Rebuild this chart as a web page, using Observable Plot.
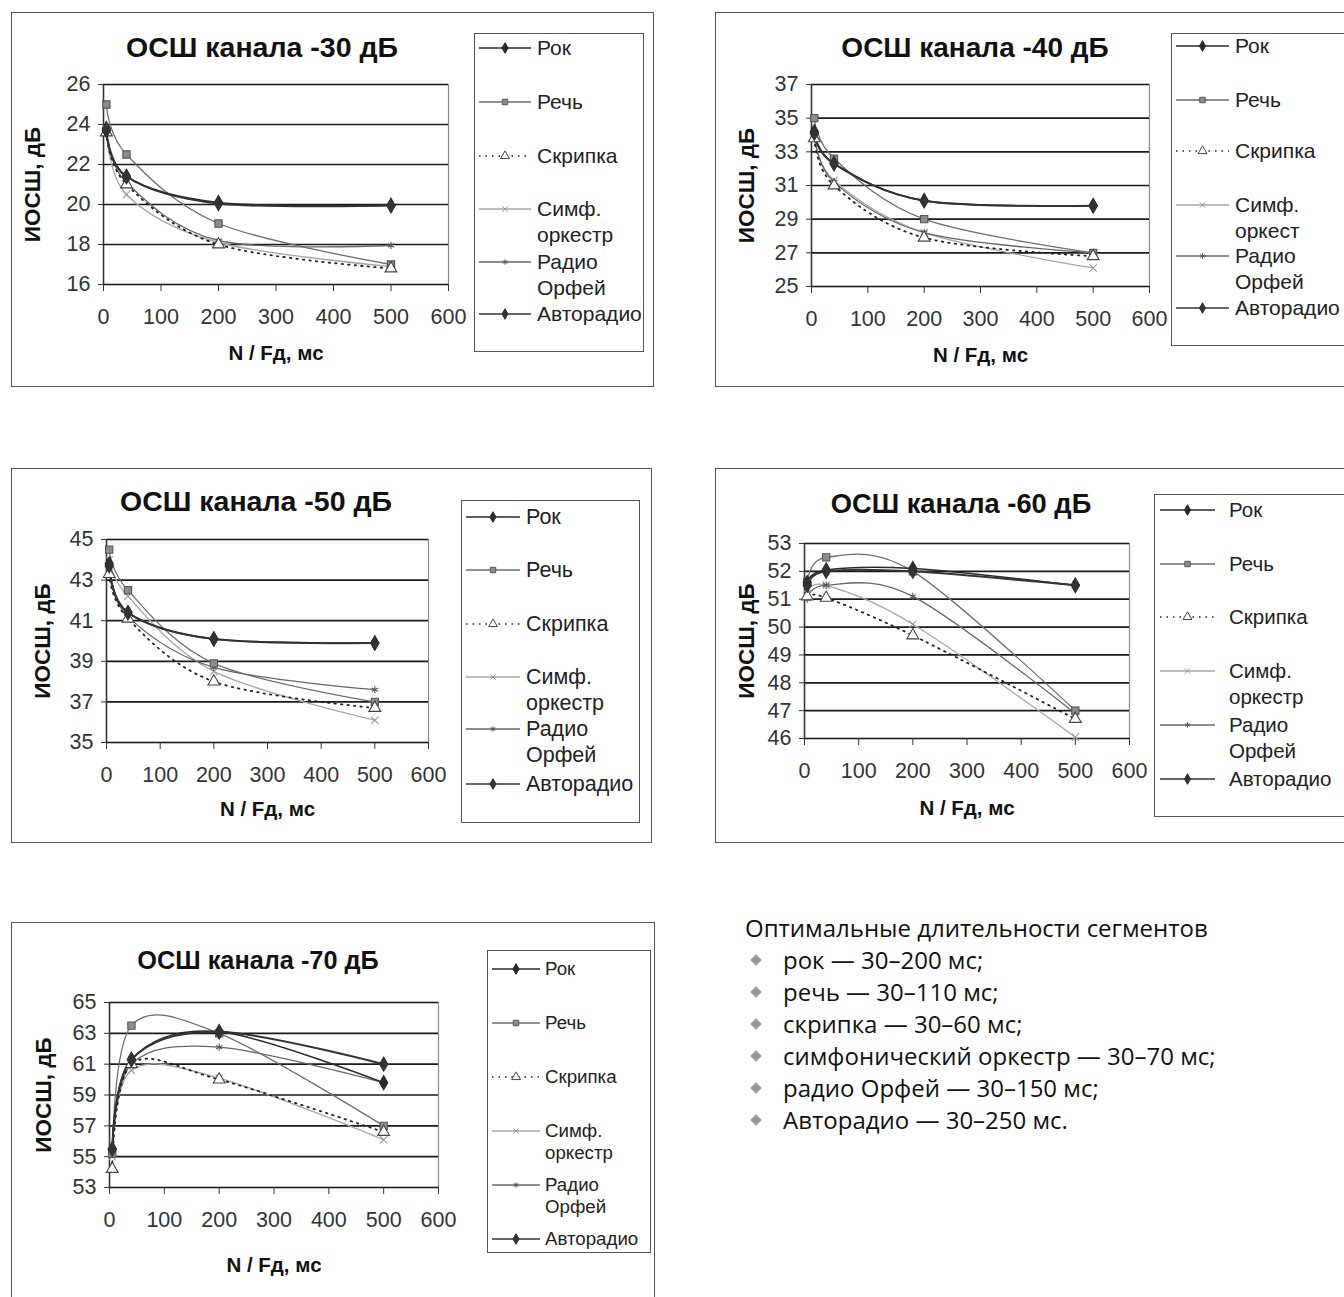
<!DOCTYPE html>
<html><head><meta charset="utf-8">
<script src="https://cdn.jsdelivr.net/npm/d3@7"></script>
<script src="https://cdn.jsdelivr.net/npm/@observablehq/plot@0.6"></script>
<style>
body{margin:0;background:#fff;}
#page{position:relative;width:1344px;height:1297px;overflow:hidden;background:#fff;font-family:"Liberation Sans",Arial,sans-serif;color:#1a1a1a;}
.frame{position:absolute;border:1.5px solid #555;box-sizing:border-box;}
.title{position:absolute;font-weight:bold;transform:translate(-50%,-50%);white-space:nowrap;color:#111;}
.legend{position:absolute;border:1.5px solid #555;box-sizing:border-box;background:#fff;}
.plot{position:absolute;}
.lgtext{position:absolute;white-space:nowrap;color:#222;}
.lgsym{position:absolute;overflow:visible;}
#notes{position:absolute;left:745px;top:912px;font-family:"Open Sans","Noto Sans",sans-serif;font-size:24px;color:#111;}
#notes .head{height:32px;line-height:32px;}
#notes .item{position:relative;height:32px;line-height:32px;padding-left:38px;}
#notes .item::before{content:"";position:absolute;left:7px;top:12px;width:8px;height:8px;background:#999;transform:rotate(45deg);}
</style></head>
<body><div id="page"></div>
<script>
// ---------- data ----------
const xValues = [5, 40, 200, 500];
const xTicks = [0, 100, 200, 300, 400, 500, 600];
const seriesNames = ["Рок", "Речь", "Скрипка", "Симф. оркестр", "Радио Орфей", "Авторадио"];
const titles = ["ОСШ канала -30 дБ", "ОСШ канала -40 дБ", "ОСШ канала -50 дБ", "ОСШ канала -60 дБ", "ОСШ канала -70 дБ"];
const yLabel = "ИОСШ, дБ";
const xLabel = "N / Fд, мс";
const legendLabels = ["Рок", "Речь", "Скрипка", "Симф.\nоркестр", "Радио\nОрфей", "Авторадио"];
const legendLabels40 = ["Рок", "Речь", "Скрипка", "Симф.\nоркест", "Радио\nОрфей", "Авторадио"];
// rows follow seriesNames; columns follow xValues
const snr30 = [
  [23.7, 21.4, 20.1, 19.95],
  [25.0, 22.5, 19.05, 17.0],
  [23.6, 21.0, 18.0, 16.8],
  [23.8, 20.5, 18.1, 16.9],
  [23.7, 21.1, 18.2, 17.95],
  [23.8, 21.4, 20.05, 19.95]
];
const snr40 = [
  [34.2, 32.3, 30.1, 29.8],
  [35.0, 32.6, 29.0, 27.0],
  [33.8, 31.0, 27.9, 26.8],
  [34.0, 31.3, 28.2, 26.1],
  [34.1, 31.2, 28.2, 27.0],
  [34.1, 32.3, 30.1, 29.8]
];
const snr50 = [
  [43.8, 41.4, 40.1, 39.9],
  [44.5, 42.5, 38.9, 37.0],
  [43.3, 41.1, 38.0, 36.7],
  [44.0, 42.2, 38.5, 36.1],
  [43.6, 41.2, 38.7, 37.6],
  [43.7, 41.4, 40.1, 39.9]
];
const snr60 = [
  [51.6, 52.05, 52.1, 51.5],
  [51.6, 52.5, 52.0, 47.0],
  [51.1, 51.05, 49.7, 46.7],
  [51.2, 51.5, 50.1, 46.05],
  [51.0, 51.5, 51.1, 46.9],
  [51.5, 52.0, 52.0, 51.5]
];
const snr70 = [
  [55.5, 61.3, 63.1, 59.8],
  [55.2, 63.5, 63.0, 57.0],
  [54.2, 61.0, 60.0, 56.6],
  [55.0, 60.6, 60.1, 56.1],
  [55.3, 61.0, 62.1, 59.8],
  [55.5, 61.3, 63.1, 61.0]
];
const yTicks30 = [16, 18, 20, 22, 24, 26];
const yTicks40 = [25, 27, 29, 31, 33, 35, 37];
const yTicks50 = [35, 37, 39, 41, 43, 45];
const yTicks60 = [46, 47, 48, 49, 50, 51, 52, 53];
const yTicks70 = [53, 55, 57, 59, 61, 63, 65];
const noteHead = "Оптимальные длительности сегментов";
const noteItems = ["рок — 30–200 мс;", "речь — 30–110 мс;", "скрипка — 30–60 мс;", "симфонический оркестр — 30–70 мс;", "радио Орфей — 30–150 мс;", "Авторадио — 30–250 мс."];

// ---------- styles ----------
const styles = {
  "Рок":           {stroke:"#2a2a2a", sw:1.6, symbol:"diamond", fill:"#2a2a2a", mstroke:"#2a2a2a", r:4.3},
  "Речь":          {stroke:"#6e6e6e", sw:1.3, symbol:"square", fill:"#8c8c8c", mstroke:"#555", r:4.1},
  "Скрипка":       {stroke:"#222", sw:1.8, dash:"1.5,5", symbol:"triangle", fill:"#fff", mstroke:"#444", r:4.4},
  "Симф. оркестр": {stroke:"#a6a6a6", sw:1.3, symbol:"times", fill:"none", mstroke:"#999", r:3.4},
  "Радио Орфей":   {stroke:"#666", sw:1.3, symbol:"asterisk", fill:"none", mstroke:"#555", r:3.4},
  "Авторадио":     {stroke:"#333", sw:2.0, symbol:"diamond", fill:"#333", mstroke:"#333", r:4.3}
};
const drawOrder = ["Симф. оркестр", "Радио Орфей", "Речь", "Скрипка", "Рок", "Авторадио"];

// ---------- layout ----------
const panels = [
  {title:titles[0], values:snr30, yTicks:yTicks30, labels:legendLabels,
   frame:[11,12,643,375], plot:[103,84,448,284], titlePos:[262,47], titleFs:28.5,
   legend:[474,33,170,319], legY:[48,102,156,209,262,314], line:[479,531], textX:537, legFs:21,
   yOff:71, xOff:69, tickFs:21.5},
  {title:titles[1], values:snr40, yTicks:yTicks40, labels:legendLabels40,
   frame:[715,12,700,375], plot:[811,84,1149,286], titlePos:[975,48], titleFs:28,
   legend:[1171,33,200,313], legY:[46,100,151,205,256,308], line:[1176,1229], textX:1235, legFs:21,
   yOff:65, xOff:69, tickFs:21.5},
  {title:titles[2], values:snr50, yTicks:yTicks50, labels:legendLabels,
   frame:[11,468,641,375], plot:[106,539,428,742], titlePos:[256,501], titleFs:28.5,
   legend:[461,500,179,323], legY:[517,570,624,677,729,784], line:[466,520], textX:526, legFs:21.5,
   yOff:64, xOff:67, tickFs:21.5},
  {title:titles[3], values:snr60, yTicks:yTicks60, labels:legendLabels,
   frame:[715,468,700,375], plot:[804,543,1129,738], titlePos:[961,504], titleFs:27.3,
   legend:[1154,494,220,323], legY:[510,564,617,671,725,779], line:[1160,1215], textX:1229, legFs:20.5,
   yOff:58, xOff:70, tickFs:21.5},
  {title:titles[4], values:snr70, yTicks:yTicks70, labels:legendLabels,
   frame:[11,922,644,420], plot:[109,1002,438,1187], titlePos:[258,960], titleFs:25.3,
   legend:[487,950,164,303], legY:[969,1023,1077,1131,1185,1239], line:[492,540], textX:545, legFs:18.7,
   yOff:66, xOff:78, tickFs:21.5}
];

const page = document.getElementById("page");

function symbolPath(name, r) {
  const map = {diamond:d3.symbolDiamond, square:d3.symbolSquare, triangle:d3.symbolTriangle, times:d3.symbolTimes, asterisk:d3.symbolAsterisk};
  return d3.symbol(map[name], Math.PI * r * r)();
}

function drawPanel(cfg) {
  const [fx, fy, fw, fh] = cfg.frame;
  const fr = document.createElement("div");
  fr.className = "frame";
  Object.assign(fr.style, {left:fx+"px", top:fy+"px", width:fw+"px", height:fh+"px"});
  page.appendChild(fr);

  const t = document.createElement("div");
  t.className = "title";
  t.textContent = cfg.title;
  Object.assign(t.style, {left:cfg.titlePos[0]+"px", top:cfg.titlePos[1]+"px", fontSize:cfg.titleFs+"px"});
  page.appendChild(t);

  const [L, T, R, B] = cfg.plot;
  const mL = 95, mR = 30, mT = 12, mB = 95;
  const data = [];
  seriesNames.forEach((s, i) => xValues.forEach((x, j) => data.push({series:s, x, y:cfg.values[i][j]})));
  const yDom = [d3.min(cfg.yTicks), d3.max(cfg.yTicks)];

  const marks = [
    Plot.frame({stroke:"#8a8a8a", strokeWidth:1.2}),
    Plot.ruleY(cfg.yTicks, {stroke:"#1a1a1a", strokeWidth:1.7}),
    Plot.ruleX([0], {stroke:"#333", strokeWidth:1.5}),
    Plot.axisY({ticks:cfg.yTicks, tickSize:5, tickPadding:8, fontSize:cfg.tickFs, label:null, tickFormat:d=>d}),
    Plot.axisX({ticks:xTicks, tickSize:7, tickPadding:17, fontSize:cfg.tickFs, label:null, tickFormat:d=>d}),
    Plot.text([yLabel], {text:d=>d, frameAnchor:"left", textAnchor:"middle", lineAnchor:"middle", rotate:-90, dx:-cfg.yOff, fontWeight:"bold", fontSize:22.5, fill:"#111"}),
    Plot.text([xLabel], {text:d=>d, frameAnchor:"bottom", textAnchor:"middle", lineAnchor:"middle", dy:cfg.xOff, fontWeight:"bold", fontSize:20.5, fill:"#111"})
  ];
  for (const s of drawOrder) {
    const st = styles[s];
    const sub = data.filter(d => d.series === s);
    marks.push(Plot.line(sub, {x:"x", y:"y", stroke:st.stroke, strokeWidth:st.sw, strokeDasharray:st.dash, curve:"cardinal"}));
  }
  for (const s of drawOrder) {
    const st = styles[s];
    const sub = data.filter(d => d.series === s);
    marks.push(Plot.dot(sub, {x:"x", y:"y", symbol:()=>st.symbol, r:st.r, fill:st.fill, stroke:st.mstroke, strokeWidth:1.1}));
  }
  const svg = Plot.plot({
    width:(R-L)+mL+mR, height:(B-T)+mT+mB,
    marginLeft:mL, marginRight:mR, marginTop:mT, marginBottom:mB,
    x:{domain:[0,600]}, y:{domain:yDom},
    symbol:{type:"identity"},
    style:{fontFamily:"'Liberation Sans', Arial, sans-serif", color:"#333", background:"transparent", overflow:"visible"},
    marks
  });
  svg.classList.add("plot");
  svg.style.left = (L - mL) + "px";
  svg.style.top = (T - mT) + "px";
  page.appendChild(svg);

  // legend
  const [lx, ly, lw, lh] = cfg.legend;
  const lg = document.createElement("div");
  lg.className = "legend";
  Object.assign(lg.style, {left:lx+"px", top:ly+"px", width:lw+"px", height:lh+"px"});
  page.appendChild(lg);
  seriesNames.forEach((s, i) => {
    const st = styles[s];
    const y = cfg.legY[i];
    const [x0, x1] = cfg.line;
    const ns = "http://www.w3.org/2000/svg";
    const sv = document.createElementNS(ns, "svg");
    sv.setAttribute("class", "lgsym");
    sv.setAttribute("width", x1 - x0);
    sv.setAttribute("height", 14);
    sv.style.left = x0 + "px";
    sv.style.top = (y - 7) + "px";
    const ln = document.createElementNS(ns, "line");
    ln.setAttribute("x1", 0); ln.setAttribute("x2", x1 - x0);
    ln.setAttribute("y1", 7); ln.setAttribute("y2", 7);
    ln.setAttribute("stroke", st.stroke);
    ln.setAttribute("stroke-width", Math.min(st.sw, 1.6));
    if (st.dash) ln.setAttribute("stroke-dasharray", st.dash);
    sv.appendChild(ln);
    const p = document.createElementNS(ns, "path");
    p.setAttribute("d", symbolPath(st.symbol, st.r * 0.75));
    p.setAttribute("transform", `translate(${(x1 - x0) / 2},7)`);
    p.setAttribute("fill", st.fill);
    p.setAttribute("stroke", st.mstroke);
    sv.appendChild(p);
    page.appendChild(sv);
    const tx = document.createElement("div");
    tx.className = "lgtext";
    const lines = cfg.labels[i].split("\n");
    tx.innerHTML = lines.join("<br>");
    const lh2 = cfg.legFs * 1.22;
    Object.assign(tx.style, {left:cfg.textX+"px", top:(y - lh2/2)+"px", fontSize:cfg.legFs+"px", lineHeight:lh2+"px"});
    page.appendChild(tx);
  });
}

panels.forEach(drawPanel);

// notes
const notes = document.createElement("div");
notes.id = "notes";
const h = document.createElement("div");
h.className = "head";
h.textContent = noteHead;
notes.appendChild(h);
for (const it of noteItems) {
  const d = document.createElement("div");
  d.className = "item";
  d.textContent = it;
  notes.appendChild(d);
}
page.appendChild(notes);
</script>
</body></html>
